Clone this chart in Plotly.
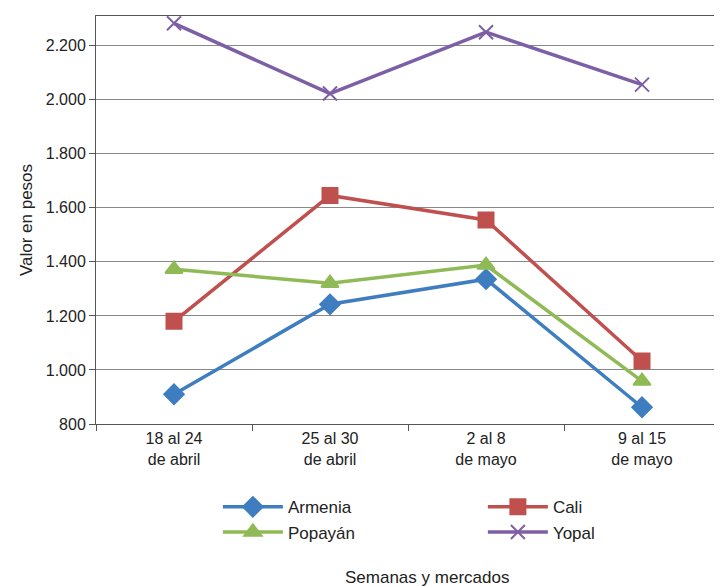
import plotly.graph_objects as go

weeks = ["18 al 24<br>de abril", "25 al 30<br>de abril", "2 al 8<br>de mayo", "9 al 15<br>de mayo"]
armenia = [910, 1243, 1336, 862]
cali = [1180, 1646, 1555, 1033]
popayan = [1373, 1321, 1388, 959]
yopal = [2283, 2023, 2250, 2056]

series = [
    ("Armenia", armenia, "#3f7dc1", "diamond"),
    ("Cali", cali, "#c0504d", "square"),
    ("Popayán", popayan, "#8fba55", "triangle-up"),
    ("Yopal", yopal, "#7d5fa5", "x-thin"),
]

fig = go.Figure()
for name, vals, color, sym in series:
    fig.add_trace(go.Scatter(
        x=weeks, y=vals, name=name, mode="lines+markers",
        line=dict(color=color, width=3.5),
        marker=dict(symbol=sym, size=15 if sym != "x-thin" else 14, color=color,
                    line=dict(color=color, width=2)),
    ))

fig.update_layout(
    width=722, height=586,
    margin=dict(l=88, r=10, t=8, b=170, autoexpand=False),
    plot_bgcolor="white", paper_bgcolor="white",
    separators=",.",
    font=dict(family="Liberation Sans, Arial", size=16, color="#222"),
    showlegend=True,
    legend=dict(orientation="h", x=0.62, xanchor="center", y=-0.16, yanchor="top",
                entrywidth=190, font=dict(size=17), tracegroupgap=0,
                itemwidth=60),
    annotations=[dict(text="Semanas y mercados", xref="paper", yref="paper",
                      x=0.53, y=-0.375, yanchor="middle", showarrow=False,
                      font=dict(size=17))],
)
fig.update_xaxes(range=[-0.5, 3.5], showline=True, linecolor="#555", mirror=True,
                 ticks="outside", tickson="boundaries", ticklen=6, tickcolor="#555",
                 showgrid=False, automargin=False)
fig.update_yaxes(range=[800, 2310], dtick=200, tickformat=",d", showline=True,
                 linecolor="#555", ticks="outside", ticklen=6, tickcolor="#555",
                 showgrid=True, gridcolor="#888", gridwidth=1, automargin=False,
                 title=dict(text="Valor en pesos", font=dict(size=17), standoff=8))

fig.write_html("out.html")
